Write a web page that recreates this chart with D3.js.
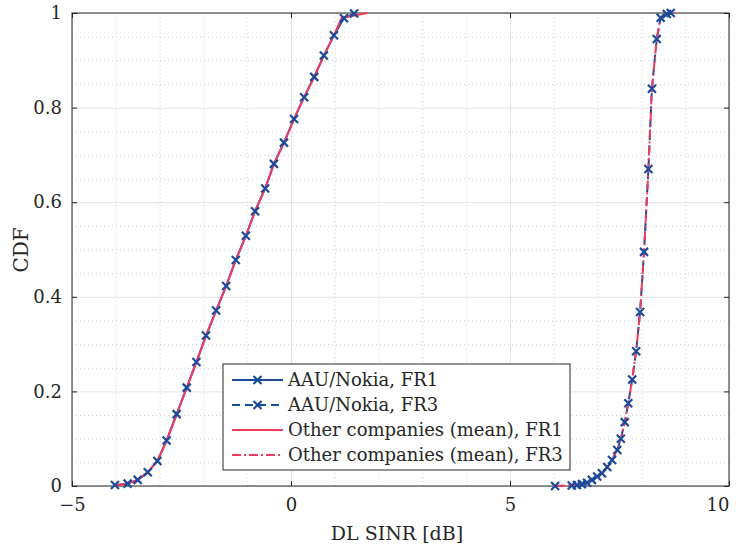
<!DOCTYPE html>
<meta charset="utf-8">
<style>
body { margin: 0; background: #fff; }
text { font-family: "DejaVu Serif", serif; fill: #262626; }
.grid-major line { stroke: #e3e3e3; stroke-width: 1px; }
.grid-minor line { stroke: #cfcfcf; stroke-width: 1px; stroke-dasharray: 1,3; }
.axis path { display: none; }
.axis line { stroke: #262626; }
</style>
<body>
<script src="https://d3js.org/d3.v7.min.js"></script>
<script>

// AAU/Nokia, FR1 (marker points)
var aauFR1x   = [-4.02, -3.73, -3.50, -3.27, -3.05, -2.84, -2.61, -2.38, -2.16, -1.94, -1.71, -1.48, -1.26, -1.03, -0.82, -0.59, -0.39, -0.16, 0.07, 0.30, 0.53, 0.75, 0.98, 1.21, 1.44];
var aauFR1cdf = [0.002, 0.005, 0.013, 0.029, 0.053, 0.096, 0.152, 0.208, 0.262, 0.318, 0.371, 0.423, 0.478, 0.529, 0.581, 0.629, 0.681, 0.726, 0.776, 0.822, 0.865, 0.910, 0.953, 0.989, 0.999];

// AAU/Nokia, FR3
var aauFR3x   = [6.03, 6.41, 6.53, 6.64, 6.76, 6.87, 6.99, 7.10, 7.22, 7.33, 7.45, 7.53, 7.62, 7.70, 7.79, 7.88, 7.97, 8.06, 8.16, 8.24, 8.35, 8.44, 8.58, 8.67];
var aauFR3cdf = [0.000, 0.001, 0.002, 0.004, 0.007, 0.013, 0.020, 0.027, 0.040, 0.055, 0.076, 0.100, 0.135, 0.175, 0.225, 0.285, 0.368, 0.495, 0.670, 0.840, 0.945, 0.990, 0.998, 1.000];

// Other companies (mean), FR1
var othFR1x   = [-4.00, -3.73, -3.50, -3.27, -3.05, -2.84, -2.61, -2.38, -2.16, -1.94, -1.71, -1.48, -1.26, -1.03, -0.82, -0.59, -0.39, -0.16, 0.07, 0.30, 0.53, 0.75, 0.98, 1.16, 1.75];
var othFR1cdf = [0.001, 0.005, 0.013, 0.029, 0.053, 0.096, 0.152, 0.208, 0.262, 0.318, 0.371, 0.423, 0.478, 0.529, 0.581, 0.629, 0.681, 0.726, 0.776, 0.822, 0.865, 0.910, 0.953, 0.990, 1.000];

// Other companies (mean), FR3
var othFR3x   = [6.05, 6.41, 6.53, 6.64, 6.76, 6.87, 6.99, 7.10, 7.22, 7.33, 7.45, 7.53, 7.62, 7.70, 7.79, 7.88, 7.97, 8.06, 8.16, 8.24, 8.35, 8.44, 8.58, 8.77];
var othFR3cdf = [0.000, 0.001, 0.002, 0.004, 0.007, 0.013, 0.020, 0.027, 0.040, 0.055, 0.076, 0.100, 0.135, 0.175, 0.225, 0.285, 0.368, 0.495, 0.670, 0.840, 0.945, 0.990, 0.998, 1.000];

var xTicks = [-5, 0, 5, 10];
var yTicks = [0, 0.2, 0.4, 0.6, 0.8, 1];
var legendLabels = ["AAU/Nokia, FR1", "AAU/Nokia, FR3", "Other companies (mean), FR1", "Other companies (mean), FR3"];

var blue = "#1c4a9a", red = "#f23a5e";

var margin = {top: 13, right: 7, bottom: 63, left: 72},
    width = 736 - margin.left - margin.right,
    height = 549 - margin.top - margin.bottom;

var x = d3.scaleLinear().domain([-5, 10]).range([0, width]);
var y = d3.scaleLinear().domain([0, 1]).range([height, 0]);

var svg = d3.select("body").append("svg")
    .attr("width", 736)
    .attr("height", 549)
  .append("g")
    .attr("transform", "translate(" + margin.left + "," + margin.top + ")");

// minor grid
svg.append("g").attr("class", "grid-minor")
    .attr("transform", "translate(0," + height + ")")
    .call(d3.axisBottom(x).tickValues(d3.range(-4, 10).filter(function(d) { return d % 5 !== 0; })).tickSize(-height).tickFormat(""))
    .select(".domain").remove();
svg.append("g").attr("class", "grid-minor")
    .call(d3.axisLeft(y).tickValues(d3.range(1, 20).filter(function(d) { return d % 4 !== 0; }).map(function(d) { return d * 0.05; })).tickSize(-width).tickFormat(""))
    .select(".domain").remove();

// major grid
svg.append("g").attr("class", "grid-major")
    .attr("transform", "translate(0," + height + ")")
    .call(d3.axisBottom(x).tickValues(xTicks).tickSize(-height).tickFormat(""))
    .select(".domain").remove();
svg.append("g").attr("class", "grid-major")
    .call(d3.axisLeft(y).tickValues(yTicks).tickSize(-width).tickFormat(""))
    .select(".domain").remove();

// axes, ticks pointing inward
var xAxis = svg.append("g").attr("class", "axis")
    .attr("transform", "translate(0," + height + ")")
    .call(d3.axisBottom(x).tickValues(xTicks).tickSize(-5).tickPadding(12).tickFormat(d3.format("d")));
xAxis.selectAll("text").style("font-size", "18px");
// keep the last label inside the window, as in the original
xAxis.selectAll("text").filter(function(d) { return d === 10; })
    .attr("text-anchor", "end").attr("x", 0);
svg.append("g").attr("class", "axis")
    .call(d3.axisTop(x).tickValues(xTicks).tickSize(-5).tickFormat(""));

var yAxis = svg.append("g").attr("class", "axis")
    .call(d3.axisLeft(y).tickValues(yTicks).tickSize(-5).tickPadding(10).tickFormat(function(d) { return d3.format("")(+d.toFixed(1)); }));
yAxis.selectAll("text").style("font-size", "18px");
svg.append("g").attr("class", "axis")
    .attr("transform", "translate(" + width + ",0)")
    .call(d3.axisRight(y).tickValues(yTicks).tickSize(-5).tickFormat(""));

// box
svg.append("rect")
    .attr("width", width).attr("height", height)
    .attr("fill", "none").attr("stroke", "#262626").attr("stroke-width", 1);

// labels
svg.append("text")
    .attr("x", 326 - margin.left + 71).attr("y", height + 54)
    .attr("text-anchor", "middle").style("font-size", "19px")
    .text("DL SINR [dB]");
svg.append("text")
    .attr("transform", "translate(-44," + (250 - margin.top) + ") rotate(-90)")
    .attr("text-anchor", "middle").style("font-size", "20px")
    .text("CDF");

function zip(xs, ys) { return xs.map(function(v, i) { return [v, ys[i]]; }); }

var line = d3.line()
    .x(function(d) { return x(d[0]); })
    .y(function(d) { return y(d[1]); });

var series = [
  {data: zip(aauFR1x, aauFR1cdf), color: blue, dash: null, marker: true},
  {data: zip(aauFR3x, aauFR3cdf), color: blue, dash: "8,5", marker: true},
  {data: zip(othFR1x, othFR1cdf), color: red, dash: null, marker: false},
  {data: zip(othFR3x, othFR3cdf), color: red, dash: "9,3,2,3", marker: false}
];

function cross(g, cx, cy, color) {
  var s = 4;
  g.append("path")
    .attr("d", "M" + (cx - s) + "," + (cy - s) + "L" + (cx + s) + "," + (cy + s) +
               "M" + (cx - s) + "," + (cy + s) + "L" + (cx + s) + "," + (cy - s))
    .attr("stroke", color).attr("stroke-width", 2.2).attr("fill", "none");
}

var plot = svg.append("g");
series.forEach(function(s) {
  plot.append("path")
    .datum(s.data)
    .attr("fill", "none")
    .attr("stroke", s.color)
    .attr("stroke-width", 2)
    .attr("stroke-dasharray", s.dash)
    .attr("d", line);
});
// markers drawn after lines
series.forEach(function(s) {
  if (!s.marker) return;
  s.data.forEach(function(d) { cross(plot, x(d[0]), y(d[1]), s.color); });
});

// legend
var lg = svg.append("g").attr("transform", "translate(" + (223 - margin.left) + "," + (364 - margin.top) + ")");
lg.append("rect")
    .attr("width", 347).attr("height", 106)
    .attr("fill", "#fff").attr("stroke", "#262626").attr("stroke-width", 1);
legendLabels.forEach(function(lbl, i) {
  var s = series[i], yy = 16 + i * 25;
  lg.append("line")
    .attr("x1", 9).attr("x2", 60).attr("y1", yy).attr("y2", yy)
    .attr("stroke", s.color).attr("stroke-width", 2)
    .attr("stroke-dasharray", s.dash);
  if (s.marker) cross(lg, 34.5, yy, s.color);
  lg.append("text")
    .attr("x", 65).attr("y", yy).attr("dy", "0.35em")
    .style("font-size", "18px")
    .text(lbl);
});

</script>
</body>
